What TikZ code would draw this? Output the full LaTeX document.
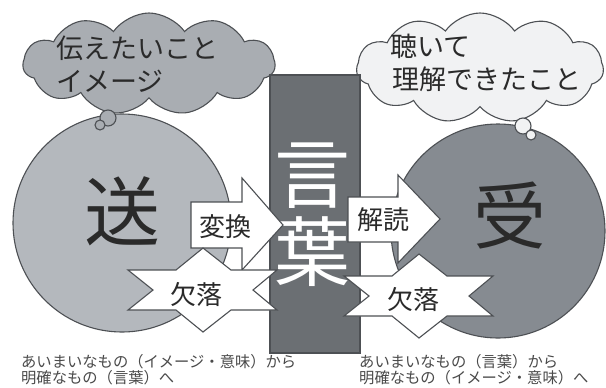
\documentclass[tikz,border=0pt]{standalone}
\usepackage{fontspec}
\setmainfont{Noto Sans CJK JP}
\usetikzlibrary{shapes.symbols}
\definecolor{outl}{HTML}{4D5054}
\definecolor{leftfill}{HTML}{B4B8BD}
\definecolor{rightfill}{HTML}{868B91}
\definecolor{barfill}{HTML}{6B6F73}
\definecolor{lcloud}{HTML}{A9ADB2}
\definecolor{rcloud}{HTML}{F1F2F3}
\definecolor{txt}{HTML}{2A2A2A}
\tikzset{
  outline/.style={draw=outl, line width=1.1bp},
  cloudbox/.style={cloud, cloud puffs=11, cloud puff arc=110, cloud ignores aspect, outline, inner sep=0pt},
  bubtxt/.style={anchor=west, inner sep=0pt, text=txt, font=\fontsize{27bp}{30bp}\selectfont},
  bigch/.style={inner sep=0pt, text=txt, font=\fontsize{76bp}{80bp}\selectfont},
  boxtxt/.style={inner sep=0pt, text=txt, font=\fontsize{26bp}{28bp}\selectfont},
  bottxt/.style={anchor=west, inner sep=0pt, text=txt!85, font=\fontsize{15.3bp}{17bp}\selectfont},
}
\begin{document}
\begin{tikzpicture}[x=1bp,y=-1bp]
\useasboundingbox (0,0) rectangle (606,387);
\clip (0,0) rectangle (606,387);
\fill[white] (0,0) rectangle (606,387);
% circles
\node[circle, outline, fill=leftfill, minimum size=218bp, inner sep=0pt] (lc) at (122,223) {};
\node[circle, outline, fill=rightfill, minimum size=214bp, inner sep=0pt] (rc) at (498,231) {};
% clouds
\node[cloudbox, fill=lcloud, minimum width=252bp, minimum height=102bp] (lcl) at (149,64) {};
\node[cloudbox, fill=rcloud, minimum width=247bp, minimum height=110bp] (rcl) at (480,68) {};
\node[circle, outline, fill=lcloud, minimum size=16bp, inner sep=0pt] (lt1) at (108,118) {};
\node[circle, outline, fill=lcloud, minimum size=10bp, inner sep=0pt] (lt2) at (100,125) {};
\node[circle, outline, fill=rcloud, minimum size=16bp, inner sep=0pt] (rt1) at (523,126) {};
\node[circle, outline, fill=rcloud, minimum size=10bp, inner sep=0pt] (rt2) at (531,135) {};
\node[bubtxt] (l1) at (56,48) {伝えたいこと};
\node[bubtxt] (l2) at (56,81) {イメージ};
\node[bubtxt] (r1) at (390,46) {聴いて};
\node[bubtxt] (r2) at (392,79) {理解できたこと};
% big characters
\node[bigch] (send) at (122,211) {送};
\node[bigch, font=\fontsize{73bp}{76bp}\selectfont] (recv) at (510,215) {受};
% central bar
\node[outline, fill=barfill, minimum width=90bp, minimum height=278bp, inner sep=0pt] (bar) at (315,214) {};
\node[bigch, text=white] (w1) at (312,176) {言};
\node[bigch, text=white] (w2) at (312,252) {葉};
% arrows
\draw[outline, fill=white] (191,202) -- (242,202) -- (242,178) -- (283,225) -- (242,270) -- (242,248) -- (191,248) -- cycle;
\node[boxtxt] (conv) at (225,227) {変換};
\draw[outline, fill=white] (348,197) -- (398,197) -- (398,175) -- (440,219) -- (398,263) -- (398,242) -- (348,242) -- cycle;
\node[boxtxt] (dec) at (383,220) {解読};
% stars
\foreach \cx/\cy in {203/290, 419/296} {
  \draw[outline, fill=white, shift={(\cx,\cy)}]
    (0,-42) -- (28,-20) -- (74,-20) -- (50,0) -- (74,20) -- (28,20) -- (0,42)
    -- (-27,20) -- (-75,20) -- (-50,0) -- (-75,-20) -- (-27,-20) -- cycle;
}
\node[boxtxt] (loss1) at (196,294) {欠落};
\node[boxtxt] (loss2) at (413,299) {欠落};
% bottom text
\node[bottxt] (b1) at (21,362) {あいまいなもの（イメージ・意味）から};
\node[bottxt] (b2) at (21,378) {明確なもの（言葉）へ};
\node[bottxt] (b3) at (359,362) {あいまいなもの（言葉）から};
\node[bottxt] (b4) at (359,378) {明確なもの（イメージ・意味）へ};
\end{tikzpicture}
\end{document}
